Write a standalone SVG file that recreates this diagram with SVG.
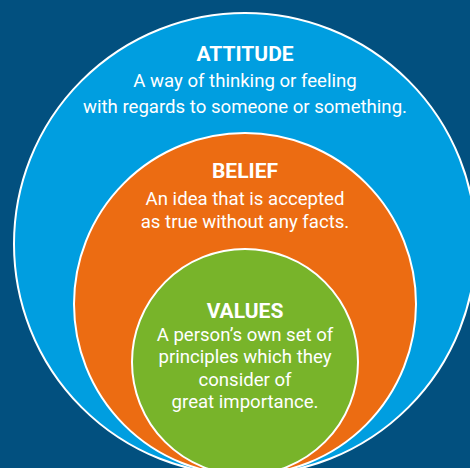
<svg xmlns="http://www.w3.org/2000/svg" width="470" height="468" viewBox="0 0 470 468">
  <style>
    .ring { stroke: #ffffff; stroke-width: 2; }
    .title { font-family: Roboto, "Liberation Sans", sans-serif; font-weight: 700; font-size: 21px; fill: #ffffff; text-anchor: middle; }
    .body { font-family: Roboto, "Liberation Sans", sans-serif; font-weight: 400; font-size: 18.6px; fill: #ffffff; text-anchor: middle; }
  </style>
  <rect width="470" height="468" fill="#02507f"/>
  <g id="attitude">
    <circle class="ring" cx="245" cy="244" r="231" fill="#009ee0"/>
    <text class="title" x="245" y="61">ATTITUDE</text>
    <text class="body" x="245" y="87">A way of thinking or feeling</text>
    <text class="body" x="245" y="113">with regards to someone or something.</text>
  </g>
  <g id="belief">
    <circle class="ring" cx="245" cy="304" r="171" fill="#ec6c12"/>
    <text class="title" x="245" y="178">BELIEF</text>
    <text class="body" x="245" y="205">An idea that is accepted</text>
    <text class="body" x="245" y="228">as true without any facts.</text>
  </g>
  <g id="values">
    <circle class="ring" cx="245" cy="362" r="113" fill="#78b42a"/>
    <text class="title" x="245" y="318">VALUES</text>
    <text class="body" x="245" y="341">A person’s own set of</text>
    <text class="body" x="245" y="363">principles which they</text>
    <text class="body" x="245" y="386">consider of</text>
    <text class="body" x="245" y="408">great importance.</text>
  </g>
</svg>
